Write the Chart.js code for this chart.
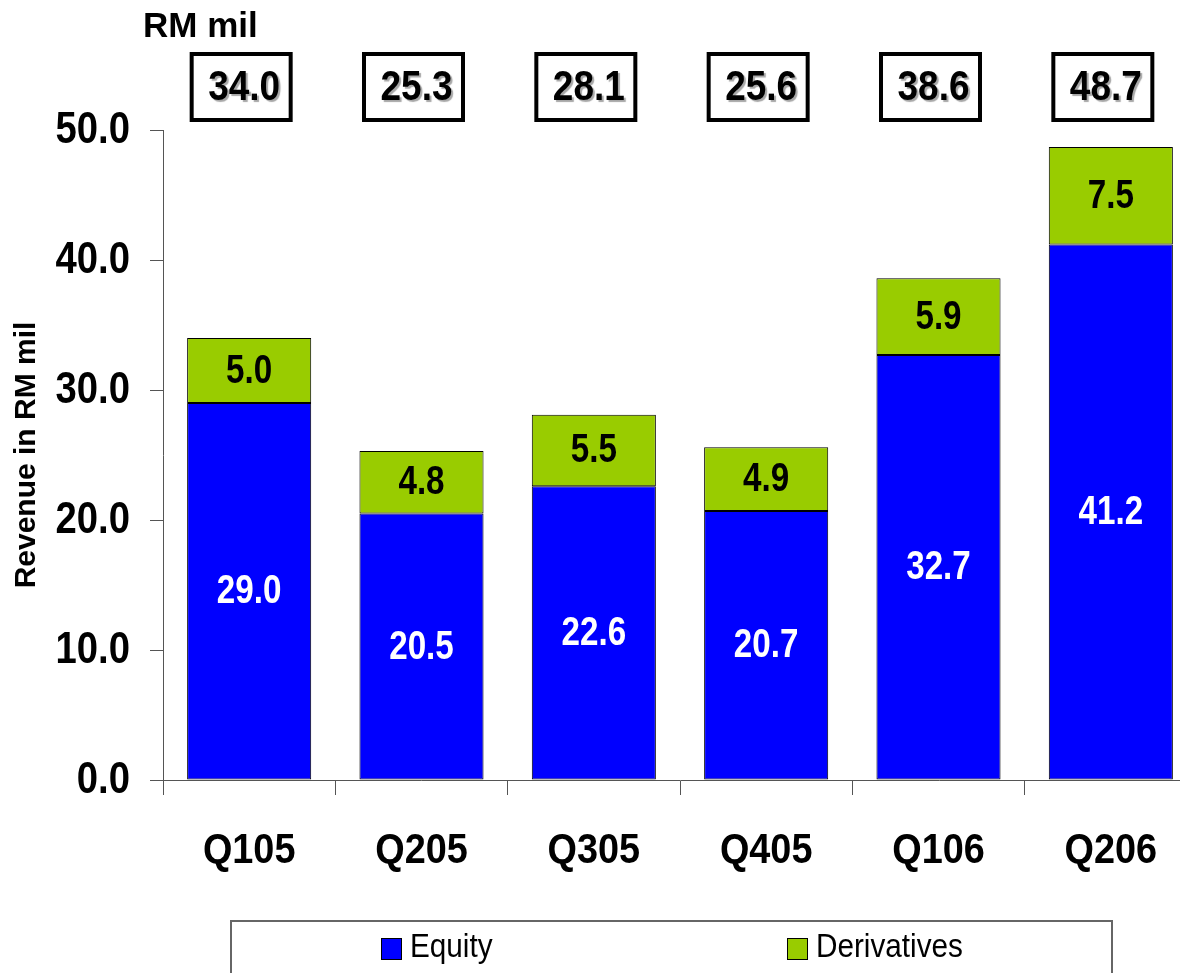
<!DOCTYPE html>
<html>
<head>
<meta charset="utf-8">
<title>Revenue</title>
<script src="https://cdn.jsdelivr.net/npm/chart.js@4.4.1/dist/chart.umd.min.js"></script>
<style>
    html, body { margin: 0; padding: 0; background: #fff; overflow: hidden; }
    #wrap { position: relative; width: 1200px; height: 973px; }
</style>
</head>
<body>
<div id="wrap"><canvas id="revenue_Chart"></canvas></div>
<script>
// quarterly revenue, RM mil
const quarters = ["Q105", "Q205", "Q305", "Q405", "Q106", "Q206"];
const equity = [29.0, 20.5, 22.6, 20.7, 32.7, 41.2];
const derivatives = [5.0, 4.8, 5.5, 4.9, 5.9, 7.5];
const yMax = 50;
const yStep = 10;

const SANS = "'Liberation Sans', Arial, sans-serif";
const AXIS_COLOR = "#555";

// no narrow face installed, so squeeze Liberation Sans horizontally
function narrowText(ctx, text, x, y, font, align, sx) {
    ctx.save();
    ctx.font = font;
    ctx.textAlign = align;
    ctx.textBaseline = "middle";
    ctx.translate(x, y);
    ctx.scale(sx, 1);
    ctx.fillText(text, 0, 0);
    ctx.restore();
}

// tick labels for both axes, placed from the scales
const axisLabels = {
    id: "axisLabels",
    afterDraw(chart) {
        let ctx = chart.ctx;
        let xs = chart.scales.x, ys = chart.scales.y;
        ctx.save();
        ctx.fillStyle = "#000";
        ys.ticks.forEach((t, i) => {
            narrowText(ctx, t.value.toFixed(1), ys.right - 33, ys.getPixelForTick(i) + 1,
                "bold 45px " + SANS, "right", 0.85);
        });
        xs.ticks.forEach((t, i) => {
            narrowText(ctx, quarters[t.value], xs.getPixelForTick(i), xs.top + 71,
                "bold 43px " + SANS, "center", 0.88);
        });
        ctx.restore();
    }
};

// numbers written inside each stacked segment
const segmentLabels = {
    id: "segmentLabels",
    afterDatasetsDraw(chart) {
        let ctx = chart.ctx;
        chart.data.datasets.forEach((ds, d) => {
            let meta = chart.getDatasetMeta(d);
            ctx.fillStyle = ds.labelColor;
            meta.data.forEach((bar, i) => {
                let p = bar.getProps(["x", "y", "base"], true);
                narrowText(ctx, ds.data[i].toFixed(1), p.x, (p.y + p.base) / 2 + 1,
                    "bold 40px " + SANS, "center", 0.83);
            });
        });
    }
};

// boxed totals above the plot plus the unit caption
const totalBoxes = {
    id: "totalBoxes",
    afterDraw(chart) {
        let ctx = chart.ctx;
        let xs = chart.scales.x;
        ctx.save();
        ctx.fillStyle = "#000";
        ctx.font = "bold 35px " + SANS;
        ctx.textAlign = "left";
        ctx.textBaseline = "alphabetic";
        ctx.fillText("RM mil", 143, 37);

        for (let i = 0; i < quarters.length; i++) {
            let total = equity[i] + derivatives[i];
            let cx = xs.getPixelForValue(i) - 8;
            ctx.lineWidth = 4;
            ctx.strokeStyle = "#000";
            ctx.strokeRect(cx - 49.5, 54, 99, 66);

            ctx.save();
            ctx.shadowColor = "rgba(0,0,0,0.35)";
            ctx.shadowOffsetX = 2;
            ctx.shadowOffsetY = 2;
            ctx.shadowBlur = 1;
            narrowText(ctx, total.toFixed(1), cx + 3, 88, "bold 42px " + SANS, "center", 0.88);
            ctx.restore();
        }
        ctx.restore();
    }
};

// framed legend under the axis
const boxLegend = {
    id: "boxLegend",
    afterDraw(chart) {
        let ctx = chart.ctx;
        let left = 231, top = 921, right = 1112;
        ctx.save();
        ctx.strokeStyle = "#666";
        ctx.lineWidth = 2;
        ctx.strokeRect(left, top, right - left, 80);

        chart.data.datasets.forEach((ds, d) => {
            let x = left + 150 + d * 406;
            ctx.fillStyle = ds.backgroundColor;
            ctx.fillRect(x, 938, 21, 22);
            ctx.lineWidth = 1;
            ctx.strokeStyle = "#000";
            ctx.strokeRect(x + 0.5, 938.5, 20, 21);
            ctx.fillStyle = "#000";
            narrowText(ctx, ds.label, x + 29, 948, "33px " + SANS, "left", 0.9);
        });
        ctx.restore();
    }
};

const revenueData = {
    labels: quarters,
    datasets: [
        {
            label: "Equity",
            data: equity,
            backgroundColor: "#0000FF",
            labelColor: "#FFFFFF"
        },
        {
            label: "Derivatives",
            data: derivatives,
            backgroundColor: "#99CC00",
            labelColor: "#000000"
        }
    ]
};
revenueData.datasets.forEach(ds => {
    ds.borderColor = "#000";
    ds.borderWidth = 1;
    ds.borderSkipped = false;
    ds.barPercentage = 0.72;
    ds.categoryPercentage = 1.0;
});

const chart = new Chart("revenue_Chart", {
    type: "bar",
    data: revenueData,
    plugins: [segmentLabels, axisLabels, totalBoxes, boxLegend],
    options: {
        responsive: true,
        maintainAspectRatio: false,
        animation: false,
        layout: {padding: {top: 130, right: 3, bottom: 0, left: 0}},
        plugins: {
            legend: {display: false},
            tooltip: {enabled: false}
        },
        scales: {
            x: {
                stacked: true,
                offset: true,
                grid: {
                    drawOnChartArea: false,
                    offset: true,
                    tickLength: 15,
                    color: AXIS_COLOR
                },
                border: {color: AXIS_COLOR},
                ticks: {display: false},
                afterFit(scale) { scale.height = 193; }
            },
            y: {
                stacked: true,
                min: 0,
                max: yMax,
                grid: {
                    drawOnChartArea: false,
                    tickLength: 13,
                    color: AXIS_COLOR
                },
                border: {color: AXIS_COLOR},
                ticks: {stepSize: yStep, display: false},
                title: {
                    display: true,
                    text: "Revenue in RM mil",
                    color: "#000",
                    font: {family: SANS, size: 30, weight: "bold"},
                    padding: {top: 9, bottom: 0}
                },
                afterFit(scale) { scale.width = 163; }
            }
        }
    }
});
</script>
</body>
</html>
